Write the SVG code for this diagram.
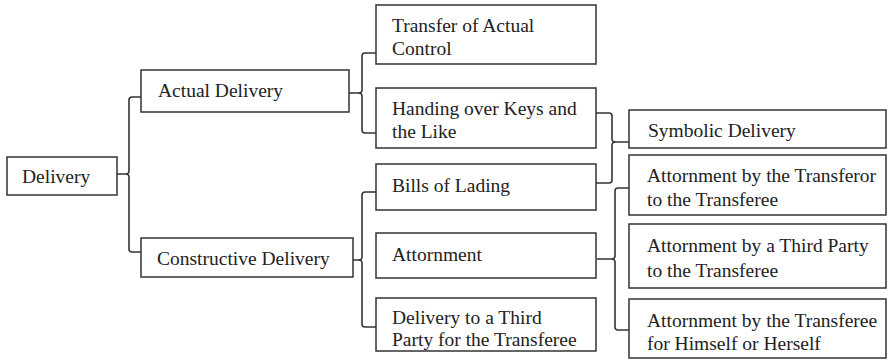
<svg xmlns="http://www.w3.org/2000/svg" width="888" height="361" viewBox="0 0 888 361">
<style>
.box{fill:#fff;stroke:#333;stroke-width:1.5}
.t{font-family:"Liberation Serif","Times New Roman",serif;font-size:19.5px;fill:#222}
.c{fill:none;stroke:#333;stroke-width:1.6;stroke-linejoin:round}
</style>
<rect width="888" height="361" fill="#fff"/>
<g id="connectors">
<path class="c" d="M117 174 H125.5 M141 97 H132 Q129 97 129 100 V171 Q129 174 125.5 174 Q129 174 129 177 V249 Q129 252 132 252 H141"/>
<path class="c" d="M349 93 H358.5 M376 53 H365 Q362 53 362 56 V90 Q362 93 358.5 93 Q362 93 362 96 V130 Q362 133 365 133 H376"/>
<path class="c" d="M353 260 H358.5 M376 192 H365 Q362 192 362 195 V257 Q362 260 358.5 260 Q362 260 362 263 V324 Q362 327 365 327 H376"/>
<path class="c" d="M596 113 H609 Q612 113 612 116 V139 Q612 142 615.5 142 H629 M596 183 H609 Q612 183 612 180 V145 Q612 142 615.5 142"/>
<path class="c" d="M597 259 H611.5 M629 188 H618 Q615 188 615 191 V256 Q615 259 611.5 259 Q615 259 615 262 V327 Q615 330 618 330 H629"/>
</g>
<g id="n-delivery"><rect class="box" x="7" y="157" width="110" height="38"/><text class="t" x="22" y="183">Delivery</text></g>
<g id="n-actual"><rect class="box" x="141" y="70" width="208" height="42"/><text class="t" x="158" y="97">Actual Delivery</text></g>
<g id="n-constructive"><rect class="box" x="141" y="238" width="212" height="39"/><text class="t" x="157" y="265">Constructive Delivery</text></g>
<g id="n-transfer"><rect class="box" x="376" y="5" width="220" height="59"/><text class="t" x="392" y="32">Transfer of Actual</text><text class="t" x="392" y="55">Control</text></g>
<g id="n-handing"><rect class="box" x="376" y="88" width="220" height="60"/><text class="t" x="392" y="115">Handing over Keys and</text><text class="t" x="392" y="138">the Like</text></g>
<g id="n-bills"><rect class="box" x="376" y="164" width="220" height="46"/><text class="t" x="392" y="192">Bills of Lading</text></g>
<g id="n-attornment"><rect class="box" x="376" y="233" width="220" height="45"/><text class="t" x="392" y="261">Attornment</text></g>
<g id="n-third"><rect class="box" x="376" y="298" width="220" height="53"/><text class="t" x="392" y="324">Delivery to a Third</text><text class="t" x="392" y="346">Party for the Transferee</text></g>
<g id="n-symbolic"><rect class="box" x="629" y="110" width="257" height="38"/><text class="t" x="648" y="137">Symbolic Delivery</text></g>
<g id="n-att-transferor"><rect class="box" x="629" y="155" width="257" height="60"/><text class="t" x="647" y="182">Attornment by the Transferor</text><text class="t" x="647" y="206">to the Transferee</text></g>
<g id="n-att-third"><rect class="box" x="629" y="224" width="257" height="64"/><text class="t" x="647" y="252">Attornment by a Third Party</text><text class="t" x="647" y="277">to the Transferee</text></g>
<g id="n-att-transferee"><rect class="box" x="629" y="299" width="257" height="59"/><text class="t" x="647" y="327">Attornment by the Transferee</text><text class="t" x="647" y="350">for Himself or Herself</text></g>
</svg>
